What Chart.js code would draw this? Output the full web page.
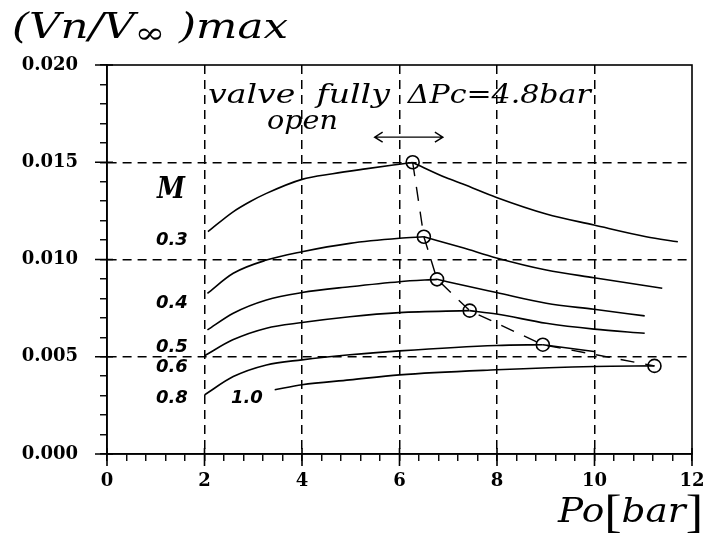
<!DOCTYPE html>
<html>
<head>
<meta charset="utf-8">
<script src="https://cdn.jsdelivr.net/npm/chart.js@4.4.0/dist/chart.umd.min.js"></script>
<style>
    html, body { margin: 0; padding: 0; background: #fff; }
</style>
</head>
<body>
<canvas id="chart" width="705" height="535"></canvas>
<script>
// Mach number of each curve
const machLabels = ["0.3", "0.4", "0.5", "0.6", "0.8", "1.0"];

// curves split at their maximum (rising part / falling part)
const po03up = [2.07, 2.58, 2.93, 3.27, 4.0, 4.63, 5.3, 6.0, 6.27];
const vn03up = [0.01143, 0.01244, 0.01297, 0.0134, 0.01412, 0.01441, 0.01466, 0.0149, 0.01499];
const po03dn = [6.27, 6.96, 7.3, 7.99, 9.01, 9.99, 11.06, 11.71];
const vn03dn = [0.01499, 0.0142, 0.01388, 0.01319, 0.01234, 0.01177, 0.01117, 0.01091];

const po04up = [2.06, 2.59, 3.27, 4.0, 4.98, 6.0, 6.5];
const vn04up = [0.00826, 0.00929, 0.00997, 0.0104, 0.01083, 0.01109, 0.01117];
const po04dn = [6.5, 7.3, 7.99, 9.01, 9.99, 11.39];
const vn04dn = [0.01117, 0.0106, 0.01008, 0.00946, 0.00906, 0.00852];

const po05up = [2.06, 2.59, 3.27, 4.0, 4.98, 6.0, 6.77];
const vn05up = [0.00638, 0.00724, 0.00792, 0.0083, 0.0086, 0.00886, 0.00898];
const po05dn = [6.77, 7.4, 7.99, 9.01, 9.99, 11.03];
const vn05dn = [0.00898, 0.00862, 0.0083, 0.00775, 0.00744, 0.0071];

const po06up = [2.0, 2.58, 3.27, 4.0, 4.98, 6.0, 7.44];
const vn06up = [0.00505, 0.00587, 0.00647, 0.00676, 0.00706, 0.00727, 0.00737];
const po06dn = [7.44, 7.99, 9.01, 9.99, 11.03];
const vn06dn = [0.00737, 0.0072, 0.00672, 0.00642, 0.00621];

const po08up = [2.0, 2.59, 3.27, 4.0, 4.98, 6.0, 7.99, 8.94];
const vn08up = [0.00304, 0.00398, 0.00458, 0.00484, 0.0051, 0.0053, 0.00558, 0.00562];
const po08dn = [8.94, 9.99];
const vn08dn = [0.00562, 0.00527];

const po10 = [3.44, 4.0, 4.98, 6.0, 7.99, 9.99, 11.23];
const vn10 = [0.0033, 0.00356, 0.00381, 0.00407, 0.00433, 0.0045, 0.00453];

// maxima of each curve, joined by the dashed line
const peakPo = [6.27, 6.5, 6.77, 7.44, 8.94, 11.23];
const peakVn = [0.0150, 0.01117, 0.00898, 0.00737, 0.00562, 0.00453];

// axis ticks
const xMajor = [0, 2, 4, 6, 8, 10, 12];
const yMajor = [0, 0.005, 0.010, 0.015, 0.020];

function pts(xs, ys) {
    return xs.map((x, i) => ({x: x, y: ys[i]}));
}

function curve(xs, ys) {
    return {
        data: pts(xs, ys),
        showLine: true,
        borderColor: "#000",
        borderWidth: 1.6,
        pointRadius: 0,
        cubicInterpolationMode: "monotone",
        fill: false
    };
}

const isMajor = (v, list) => list.some(m => Math.abs(m - v) < 1e-9);

// draw text stretched to a given width
function fitText(ctx, text, x, y, font, width) {
    ctx.save();
    ctx.font = font;
    const w = ctx.measureText(text).width;
    ctx.translate(x, y);
    if (width) ctx.scale(width / w, 1);
    ctx.fillText(text, 0, 0);
    ctx.restore();
}

// several pieces of text with their own font, all stretched by the same factor
function pieces(ctx, parts, x, y, width) {
    ctx.save();
    let total = 0;
    parts.forEach(p => { ctx.font = p[1]; total += ctx.measureText(p[0]).width; });
    ctx.translate(x, y);
    ctx.scale(width / total, 1);
    let cx = 0;
    parts.forEach(p => {
        ctx.font = p[1];
        ctx.fillText(p[0], cx, p[2]);
        cx += ctx.measureText(p[0]).width;
    });
    ctx.restore();
}

const decor = {
    id: "decor",
    afterDatasetsDraw(chart) {
        const ctx = chart.ctx;
        const a = chart.chartArea;
        const xs = chart.scales.x, ys = chart.scales.y;
        ctx.save();
        ctx.strokeStyle = "#000";
        ctx.fillStyle = "#000";
        ctx.lineWidth = 1.6;
        ctx.setLineDash([]);
        // frame
        ctx.strokeRect(a.left, a.top, a.right - a.left, a.bottom - a.top);
        // major ticks cross the axes
        ctx.beginPath();
        xMajor.forEach(v => {
            const px = xs.getPixelForValue(v);
            ctx.moveTo(px, a.bottom - 6);
            ctx.lineTo(px, a.bottom + 12);
        });
        yMajor.forEach(v => {
            const py = ys.getPixelForValue(v);
            ctx.moveTo(a.left - 12, py);
            ctx.lineTo(a.left + 6, py);
        });
        ctx.stroke();

        // arrow
        const ax1 = xs.getPixelForValue(5.49), ax2 = xs.getPixelForValue(6.89);
        const ay = ys.getPixelForValue(0.01629);
        ctx.lineWidth = 1.4;
        ctx.beginPath();
        ctx.moveTo(ax1, ay); ctx.lineTo(ax2, ay);
        ctx.moveTo(ax1 + 8, ay - 5); ctx.lineTo(ax1, ay); ctx.lineTo(ax1 + 8, ay + 5);
        ctx.moveTo(ax2 - 8, ay - 5); ctx.lineTo(ax2, ay); ctx.lineTo(ax2 - 8, ay + 5);
        ctx.stroke();

        ctx.textBaseline = "alphabetic";
        ctx.textAlign = "left";
        const it = 'italic 26px "DejaVu Serif"';
        fitText(ctx, "valve  fully", xs.getPixelForValue(2.07), ys.getPixelForValue(0.01803), it, 182);
        fitText(ctx, "open", xs.getPixelForValue(3.28), ys.getPixelForValue(0.01672), it, 71);
        fitText(ctx, "\u0394Pc=4.8bar", xs.getPixelForValue(6.17), ys.getPixelForValue(0.01803), it, 183);

        // curve labels
        fitText(ctx, "M", 157, 198, 'bold italic 30px "DejaVu Serif"', 28);
        const labAt = [[1.33, 0.0110], [1.33, 0.00773], [1.33, 0.0055], [1.33, 0.00445], [1.33, 0.00288], [2.87, 0.00288]];
        ctx.textAlign = "center";
        ctx.textBaseline = "middle";
        ctx.font = 'bold italic 18px "DejaVu Sans"';
        machLabels.forEach((t, i) => {
            ctx.fillText(t, xs.getPixelForValue(labAt[i][0]), ys.getPixelForValue(labAt[i][1]));
        });

        // axis titles
        ctx.textAlign = "left";
        ctx.textBaseline = "alphabetic";
        const tf = 'italic 36px "DejaVu Serif"';
        pieces(ctx, [["(Vn/V", tf, 0], ["\u221E", '30px "DejaVu Serif"', 5], [" )max", tf, 0]], 12, 38, 276);

        const pf = 'italic 33px "DejaVu Serif"';
        const bf = '46px "Liberation Serif"';
        pieces(ctx, [["Po", pf, 0], ["[", bf, 5], ["bar", pf, 0], ["]", bf, 5]], 558, 522, 145);
        ctx.restore();
    }
};

const tickFont = {family: '"DejaVu Serif"', weight: "bold", size: 18};

new Chart(document.getElementById("chart"), {
    type: "scatter",
    data: {
        datasets: [
            curve(po03up, vn03up), curve(po03dn, vn03dn),
            curve(po04up, vn04up), curve(po04dn, vn04dn),
            curve(po05up, vn05up), curve(po05dn, vn05dn),
            curve(po06up, vn06up), curve(po06dn, vn06dn),
            curve(po08up, vn08up), curve(po08dn, vn08dn),
            curve(po10, vn10),
            {
                data: pts(peakPo, peakVn),
                showLine: true,
                borderColor: "#000",
                borderWidth: 1.4,
                borderDash: [14, 11],
                tension: 0,
                pointRadius: 6.5,
                pointBorderWidth: 1.6,
                pointBorderColor: "#000",
                pointBackgroundColor: "rgba(0,0,0,0)"
            }
        ]
    },
    options: {
        responsive: false,
        animation: false,
        events: [],
        layout: {padding: {left: 0, top: 65, right: 13, bottom: 0}},
        plugins: {legend: {display: false}, tooltip: {enabled: false}},
        scales: {
            x: {
                type: "linear",
                min: 0,
                max: 12,
                ticks: {
                    stepSize: 0.4,
                    autoSkip: false,
                    maxRotation: 0,
                    padding: 10,
                    color: "#000",
                    font: tickFont,
                    callback: v => isMajor(v, xMajor) ? String(Math.round(v)) : ""
                },
                grid: {
                    color: c => (c.tick && isMajor(c.tick.value, xMajor) && c.tick.value > 0 && c.tick.value < 12) ? "#000" : "rgba(0,0,0,0)",
                    lineWidth: 1.5,
                    tickColor: "#000",
                    tickLength: 7,
                    tickWidth: 1.4
                },
                border: {color: "#000", width: 1.6, dash: [9, 6]},
                afterFit: s => { s.height = 81; s.paddingLeft = 0; s.paddingRight = 0; }
            },
            y: {
                type: "linear",
                min: 0,
                max: 0.02,
                ticks: {
                    stepSize: 0.001,
                    autoSkip: false,
                    padding: 22,
                    color: "#000",
                    font: tickFont,
                    callback: v => isMajor(v, yMajor) ? v.toFixed(3) : ""
                },
                grid: {
                    color: c => (c.tick && isMajor(c.tick.value, yMajor) && c.tick.value > 0 && c.tick.value < 0.02) ? "#000" : "rgba(0,0,0,0)",
                    lineWidth: 1.5,
                    tickColor: "#000",
                    tickLength: 7,
                    tickWidth: 1.4
                },
                border: {color: "#000", width: 1.6, dash: [9, 6]},
                afterFit: s => { s.width = 107; s.paddingTop = 0; s.paddingBottom = 0; }
            }
        }
    },
    plugins: [decor]
});
</script>
</body>
</html>
